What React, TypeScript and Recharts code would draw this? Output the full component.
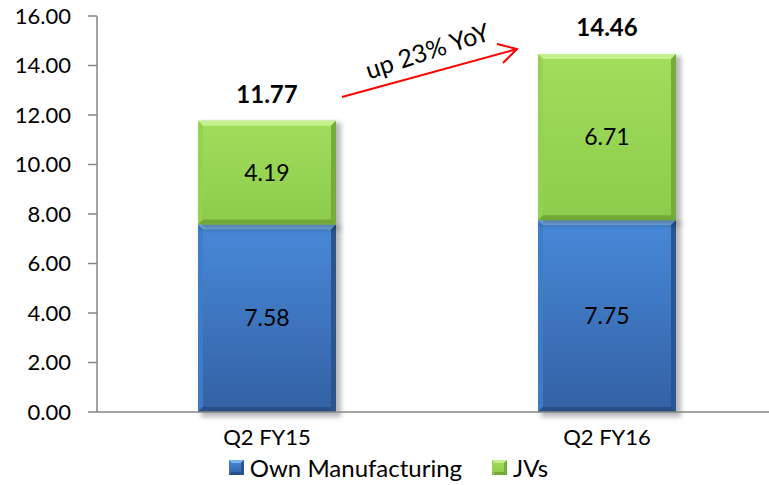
import React from "react";
import { BarChart, Bar, XAxis, YAxis, Legend, LabelList } from "recharts";

const categories = ["Q2 FY15", "Q2 FY16"];
const ownManufacturing = [7.58, 7.75];
const jvs = [4.19, 6.71];
const totals = [11.77, 14.46];
const yTicks = [0, 2, 4, 6, 8, 10, 12, 14, 16];
const seriesNames = ["Own Manufacturing", "JVs"];
const annotationText = "up 23% YoY";

const data = categories.map((name, i) => ({
  name,
  own: ownManufacturing[i],
  jv: jvs[i],
  total: totals[i],
}));

const FONT = "Lato, 'Open Sans', sans-serif";

type Pal = { id: string; top: string; bottom: string; hi: string; left: string; right: string; low: string };
const BLUE: Pal = { id: "blue", top: "#4889d9", bottom: "#3361a4", hi: "#79b4f2", left: "#3f7cc8", right: "#2b5590", low: "#2a4f86" };
const GREEN: Pal = { id: "green", top: "#a2de5c", bottom: "#8ccb4b", hi: "#c4f08e", left: "#96d152", right: "#76ad3a", low: "#73a838" };

const makeShape = (p: Pal) => (props: any) => {
  const { x, y, width, height } = props;
  if (!height || height <= 0) return <g />;
  const b = 5;
  return (
    <g>
      <rect x={x + 3} y={y + 2} width={width + 2} height={height + 3} fill="#000" opacity={0.28} filter="url(#shadowBlur)" />
      <rect x={x} y={y} width={width} height={height} fill={`url(#${p.id}Body)`} />
      <polygon points={`${x},${y} ${x + width},${y} ${x + width - b},${y + b} ${x + b},${y + b}`} fill={p.hi} />
      <polygon points={`${x},${y} ${x + b},${y + b} ${x + b},${y + height - b} ${x},${y + height}`} fill={p.left} opacity={0.9} />
      <polygon points={`${x + width},${y} ${x + width},${y + height} ${x + width - b},${y + height - b} ${x + width - b},${y + b}`} fill={p.right} />
      <polygon points={`${x},${y + height} ${x + b},${y + height - b} ${x + width - b},${y + height - b} ${x + width},${y + height}`} fill={p.low} />
    </g>
  );
};

const LegendIcon = ({ p }: { p: Pal }) => (
  <svg width={15} height={15} style={{ marginRight: 6 }}>
    <rect x={0} y={0} width={15} height={15} fill={`url(#${p.id}BodyL)`} />
    <polygon points="0,0 15,0 12,3 3,3" fill={p.hi} />
    <polygon points="15,0 15,15 12,12 12,3" fill={p.right} />
    <polygon points="0,15 3,12 12,12 15,15" fill={p.low} />
    <defs>
      <linearGradient id={`${p.id}BodyL`} x1="0" y1="0" x2="0" y2="1">
        <stop offset="0" stopColor={p.top} />
        <stop offset="1" stopColor={p.bottom} />
      </linearGradient>
    </defs>
  </svg>
);

const renderLegend = () => (
  <div style={{ display: "flex", justifyContent: "center", alignItems: "center", fontFamily: FONT, fontSize: 24, color: "#000", height: 26 }}>
    <div style={{ display: "flex", alignItems: "center", marginRight: 30 }}>
      <LegendIcon p={BLUE} />
      <span>{seriesNames[0]}</span>
    </div>
    <div style={{ display: "flex", alignItems: "center" }}>
      <LegendIcon p={GREEN} />
      <span>{seriesNames[1]}</span>
    </div>
  </div>
);

const fmt = (v: any) => Number(v).toFixed(2);

export default function App() {
  return (
    <div style={{ position: "absolute", left: 0, top: 0, width: 769, height: 485, overflow: "hidden", background: "#fff" }}>
      <BarChart
        width={790}
        height={485}
        data={data}
        margin={{ top: 16, right: 13, left: 0, bottom: 5 }}
        barCategoryGap={0}
      >
        <defs>
          {[BLUE, GREEN].map((p) => (
            <linearGradient key={p.id} id={`${p.id}Body`} x1="0" y1="0" x2="0" y2="1">
              <stop offset="0" stopColor={p.top} />
              <stop offset="1" stopColor={p.bottom} />
            </linearGradient>
          ))}
          <filter id="shadowBlur" x="-20%" y="-20%" width="140%" height="140%">
            <feGaussianBlur stdDeviation="2.5" />
          </filter>
        </defs>
        <XAxis
          dataKey="name"
          axisLine={{ stroke: "#868686", strokeWidth: 1.5 }}
          tickLine={false}
          tickSize={0}
          tickMargin={17}
          height={42}
          tick={{ fill: "#000", fontSize: 22, fontFamily: FONT }}
        />
        <YAxis
          width={97}
          domain={[0, 16]}
          ticks={yTicks}
          tickFormatter={fmt}
          axisLine={{ stroke: "#868686", strokeWidth: 1.5 }}
          tickLine={{ stroke: "#868686", strokeWidth: 1.5 }}
          tickSize={9}
          tickMargin={17}
          tick={{ fill: "#000", fontSize: 22, fontFamily: FONT }}
          interval={0}
        />
        <Legend verticalAlign="bottom" height={26} content={renderLegend} />
        <Bar dataKey="own" stackId="a" barSize={138} shape={makeShape(BLUE)} isAnimationActive={false}>
          <LabelList dataKey="own" position="center" formatter={fmt} style={{ fill: "#000", fontSize: 23, fontFamily: FONT }} />
        </Bar>
        <Bar dataKey="jv" stackId="a" barSize={138} shape={makeShape(GREEN)} isAnimationActive={false}>
          <LabelList dataKey="jv" position="center" formatter={fmt} style={{ fill: "#000", fontSize: 23, fontFamily: FONT }} />
          <LabelList dataKey="total" position="top" offset={18} formatter={fmt} style={{ fill: "#000", fontSize: 24, fontWeight: 700, fontFamily: FONT }} />
        </Bar>
      </BarChart>
      <svg width={769} height={485} style={{ position: "absolute", left: 0, top: 0, pointerEvents: "none" }}>
        <g stroke="#ff0000" strokeWidth={2} fill="none">
          <line x1={342} y1={97} x2={517} y2={49} />
          <polyline points="497,44 517,49 503,63" />
        </g>
        <text
          x={427}
          y={50}
          textAnchor="middle"
          dominantBaseline="central"
          transform="rotate(-18 427 50)"
          style={{ fontFamily: FONT, fontSize: 25, fill: "#000" }}
        >
          {annotationText}
        </text>
      </svg>
    </div>
  );
}
